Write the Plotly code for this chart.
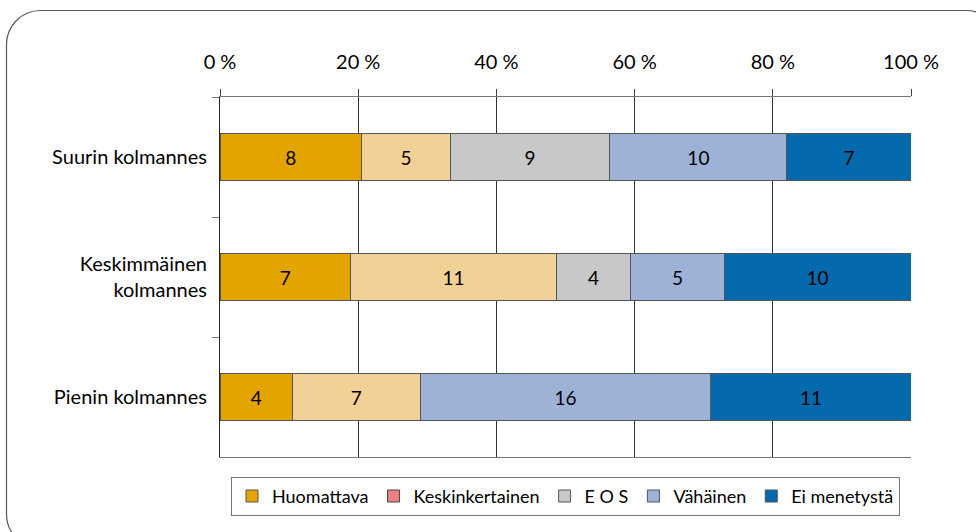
import plotly.graph_objects as go

categories = ["Suurin kolmannes", "Keskimmäinen<br>kolmannes", "Pienin kolmannes"]
series_names = ["Huomattava", "Keskinkertainen", "E O S", "Vähäinen", "Ei menetystä"]
huomattava = [8, 7, 4]
keskinkertainen = [5, 11, 7]
eos = [9, 4, 0]
vahainen = [10, 5, 16]
ei_menetysta = [7, 10, 11]
tick_vals = [0, 20, 40, 60, 80, 100]

bar_colors = ["#E4A400", "#F2D196", "#C8C8C8", "#9EB1D7", "#0569AD"]
legend_colors = ["#E4A400", "#EE8085", "#C8C8C8", "#9EB1D7", "#0569AD"]
values = [huomattava, keskinkertainen, eos, vahainen, ei_menetysta]

FONT = "Lato"
fig = go.Figure()
for name, vals, bc, lc in zip(series_names, values, bar_colors, legend_colors):
    if bc != lc:
        # legend-only entry (legend marker colour differs from bar fill in the original)
        fig.add_trace(go.Bar(
            name=name, y=[categories[0]], x=[None], orientation="h",
            marker=dict(color=lc, line=dict(color="#444", width=1)),
            showlegend=True, legendgroup=name, hoverinfo="skip"))
        show = False
    else:
        show = True
    fig.add_trace(go.Bar(
        name=name, y=categories, x=vals, orientation="h",
        marker=dict(color=bc, line=dict(color="#555", width=1)),
        text=[str(v) if v else "" for v in vals],
        texttemplate="%{text}", textposition="inside",
        insidetextanchor="middle", constraintext="none",
        textfont=dict(color="black", size=19, family=FONT),
        showlegend=show, legendgroup=name))

# Plot area in pixels: x 220..911, y 97..457
L, R, T, B = 220, 911, 97, 457
W, H = R - L, B - T
def px(x):
    return (x - L) / W
def py(y):
    return (B - y) / H

x0, y0, x1, y1, r = 6.5, 10.5, 1000, 548, 34
k = 0.5523 * r
path = (
    f"M {px(x0)},{py(y0 + r)} "
    f"C {px(x0)},{py(y0 + r - k)} {px(x0 + r - k)},{py(y0)} {px(x0 + r)},{py(y0)} "
    f"L {px(x1 - r)},{py(y0)} "
    f"C {px(x1 - r + k)},{py(y0)} {px(x1)},{py(y0 + r - k)} {px(x1)},{py(y0 + r)} "
    f"L {px(x1)},{py(y1 - r)} "
    f"C {px(x1)},{py(y1 - r + k)} {px(x1 - r + k)},{py(y1)} {px(x1 - r)},{py(y1)} "
    f"L {px(x0 + r)},{py(y1)} "
    f"C {px(x0 + r - k)},{py(y1)} {px(x0)},{py(y1 - r + k)} {px(x0)},{py(y1 - r)} Z"
)

fig.update_layout(
    width=976, height=532,
    margin=dict(l=L, r=976 - R, t=T, b=532 - B),
    barmode="stack", barnorm="percent", bargap=0.61,
    paper_bgcolor="white", plot_bgcolor="white",
    font=dict(family=FONT, size=20, color="black"),
    shapes=[dict(type="path", xref="paper", yref="paper", path=path,
                 line=dict(color="#555", width=1.2), layer="below")],
    legend=dict(orientation="h", x=0.5, xanchor="center", y=-0.055, yanchor="top",
                bordercolor="#777", borderwidth=1, font=dict(size=18, family=FONT),
                traceorder="normal", itemwidth=30, tracegroupgap=0),
    xaxis=dict(side="top", range=[0, 100], tickvals=tick_vals,
               ticktext=[f"{v} %" for v in tick_vals],
               ticks="outside", ticklen=7, tickcolor="#444",
               showline=True, linecolor="#777", linewidth=1, mirror=True,
               showgrid=True, gridcolor="#333", gridwidth=1, zeroline=False,
               ticklabelstandoff=12, tickfont=dict(size=20)),
    yaxis=dict(categoryorder="array", categoryarray=categories, autorange="reversed",
               tickson="boundaries", ticks="outside", ticklen=7, tickcolor="#777",
               showline=True, linecolor="#222", linewidth=1, showgrid=False,
               ticklabelstandoff=8, tickfont=dict(size=20)),
)

fig.write_html("out.html", config={"displayModeBar": False},
               post_script="document.body.style.margin='0px';document.body.style.padding='0px';")
